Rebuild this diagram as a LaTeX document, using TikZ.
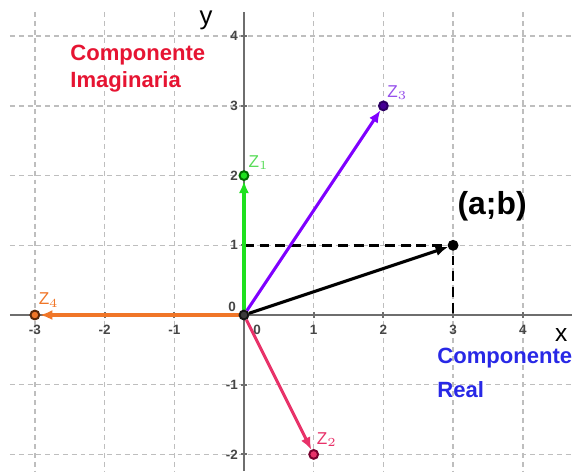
\documentclass[tikz,border=0pt]{standalone}
\usepackage{fontspec}
\setmainfont{Liberation Sans}
\usetikzlibrary{arrows.meta}
\definecolor{zgreen}{RGB}{30,225,30}
\definecolor{zpurple}{RGB}{127,0,255}
\definecolor{zpink}{RGB}{232,50,105}
\definecolor{zorange}{RGB}{240,118,40}
\definecolor{txtred}{RGB}{230,20,50}
\definecolor{txtblue}{RGB}{40,40,230}
\definecolor{gridgray}{RGB}{190,190,190}
\definecolor{axisgray}{RGB}{110,110,110}
\definecolor{ticktxt}{RGB}{70,70,70}
\pgfdeclarelayer{gridlayer}
\pgfdeclarelayer{veclayer}
\pgfsetlayers{gridlayer,veclayer,main}
\tikzset{
  gridline/.style={draw=gridgray, line width=0.6pt, dash pattern=on 2pt off 1.6pt},
  axisline/.style={draw=axisgray, line width=0.8pt},
  ticklab/.style={font=\fontsize{5.5}{6}\selectfont\bfseries, text=ticktxt, inner sep=0pt},
  vec/.style={line width=1.25pt, -{Latex[length=5pt,width=4.2pt]}},
  pt/.style={circle, inner sep=0pt, minimum size=3.6pt, line width=0.8pt},
  zlab/.style={font=\fontsize{7}{8}\selectfont, inner sep=0pt},
  bigtxt/.style={font=\fontsize{9}{10}\selectfont\bfseries, inner sep=0pt, anchor=base west},
  dashblack/.style={draw=black, line width=1pt, dash pattern=on 4pt off 2.4pt}
}
\begin{document}
\begin{tikzpicture}
\useasboundingbox (-3.50,-2.238) rectangle (4.706,4.519);
\begin{pgfonlayer}{gridlayer}
  \foreach \y in {-2,-1,1,2,3,4} \draw[gridline] (-3.357,\y) -- (4.706,\y);
  \foreach \x in {-3,-2,-1,1,2,3,4} \draw[gridline] (\x,4.347) -- (\x,-2.238);
  \draw[axisline] (-3.357,0) -- (4.706,0);
  \draw[axisline] (0,-2.238) -- (0,4.347);
  \foreach \x in {-3,-2,-1,1,2,3,4} \draw[axisline] (\x,-0.045) -- (\x,0.045);
  \foreach \y in {-2,-1,1,2,3,4} \draw[axisline] (-0.045,\y) -- (0.045,\y);
\end{pgfonlayer}
% tick labels
\foreach \x in {-3,-2,-1,1,2,3,4} \node[ticklab, anchor=north] (xl\x) at (\x,-0.14) {\x};
\node[ticklab, anchor=north] (xl0) at (0.19,-0.14) {0};
\foreach \y in {-2,-1,1,2,3,4} \node[ticklab, anchor=east] (yl\y) at (-0.08,\y) {\y};
\node[ticklab] (yl0) at (-0.17,0.115) {0};
% axis names
\node[font=\fontsize{10.5}{11}\selectfont, inner sep=0pt] (ylab) at (-0.545,4.23) {y};
\node[font=\fontsize{10}{11}\selectfont, inner sep=0pt] (xlab) at (4.55,-0.29) {x};
% texts
\node[bigtxt, text=txtred] (ci1) at (-2.496,3.658) {Componente};
\node[bigtxt, text=txtred] (ci2) at (-2.496,3.257) {Imaginaria};
\node[bigtxt, text=txtblue] (cr1) at (2.769,-0.70) {Componente};
\node[bigtxt, text=txtblue] (cr2) at (2.769,-1.18) {Real};
\node[font=\fontsize{13}{14}\selectfont\bfseries, inner sep=0pt] (ablab) at (3.56,1.56) {(a;b)};
% points
\node[pt, draw={rgb,255:red,20;green,20;blue,20}, fill={rgb,255:red,60;green,60;blue,60}] (O) at (0,0) {};
\node[pt, draw={rgb,255:red,0;green,110;blue,0}, fill=zgreen] (z1) at (0,2) {};
\node[pt, draw={rgb,255:red,120;green,0;blue,45}, fill=zpink] (z2) at (1,-2) {};
\node[pt, draw={rgb,255:red,45;green,0;blue,100}, fill={rgb,255:red,70;green,0;blue,150}] (z3) at (2,3) {};
\node[pt, draw={rgb,255:red,90;green,40;blue,10}, fill=zorange] (z4) at (-3,0) {};
\node[pt, draw=black, fill=black] (ab) at (3,1) {};
\coordinate (y1) at (0,1);
\coordinate (x3) at (3,0);
% point labels
\node[zlab, text={rgb,255:red,90;green,220;blue,90}] (l1) at (0.21,2.19) {Z$_1$};
\node[zlab, text=zpink] (l2) at (1.19,-1.79) {Z$_2$};
\node[zlab, text={rgb,255:red,150;green,80;blue,235}] (l3) at (2.2,3.19) {Z$_3$};
\node[zlab, text=zorange] (l4) at (-2.8,0.215) {Z$_4$};
\begin{pgfonlayer}{veclayer}
  \draw[dashblack] (y1) -- (ab.center) -- (x3);
  \draw[vec, zgreen] (O) -- (z1);
  \draw[vec, zpink] (O) -- (z2);
  \draw[vec, zpurple] (O) -- (z3);
  \draw[vec, zorange] (O) -- (z4);
  \draw[vec, black] (O) -- (ab);
\end{pgfonlayer}
\end{tikzpicture}
\end{document}
